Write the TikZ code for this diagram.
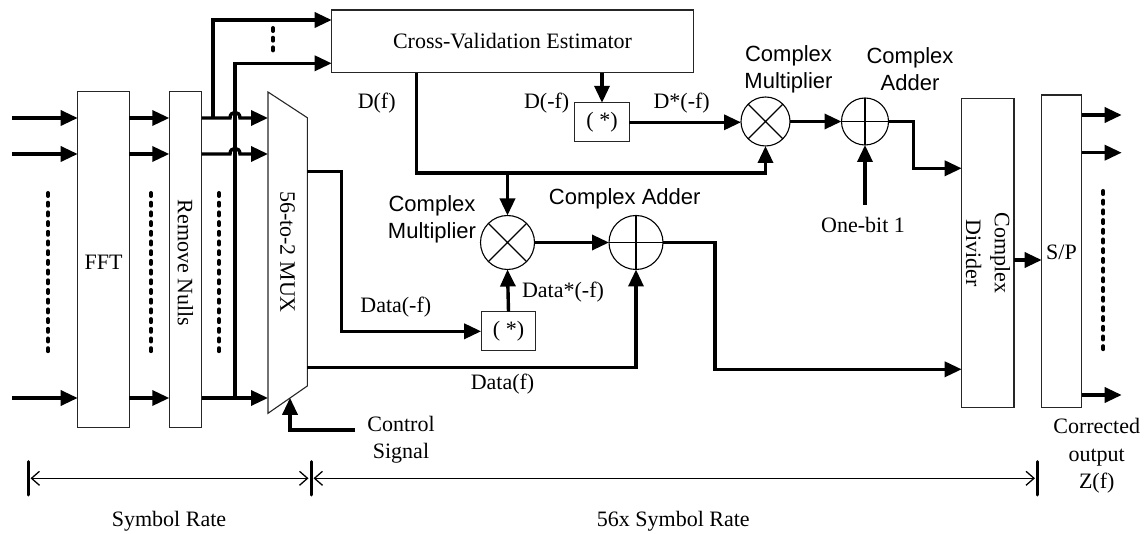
\documentclass[tikz,border=0pt]{standalone}
\usepackage{fontspec}
\setmainfont{Liberation Serif}
\newfontfamily\sansf{Liberation Sans}
\usetikzlibrary{arrows.meta,calc}
\begin{document}
\begin{tikzpicture}[x=1pt,y=-1pt,
  every node/.style={font=\fontsize{22}{26}\selectfont, inner sep=0pt, outer sep=0pt},
  blk/.style={draw=black!85, line width=1.1pt},
  sig/.style={line width=3.4pt, -{Triangle[length=17pt,width=15pt]}},
  wire/.style={line width=3.4pt},
  dotcol/.style={line width=4pt, line cap=round, dash pattern=on 3pt off 6.7pt},
  thinl/.style={line width=1.1pt},
  dimline/.style={line width=1.3pt, {Straight Barb[length=8pt,width=14pt]}-{Straight Barb[length=8pt,width=14pt]}},
  tickl/.style={line width=3pt, line cap=round},
  sl/.style={font=\sansf\fontsize{22}{27}\selectfont, align=center},
  rl/.style={align=center},
]
\useasboundingbox (0,0) rectangle (1146,534);

% ---------- blocks ----------
\node[blk, minimum width=51.6pt, minimum height=335.6pt] (fft) at (103.5,259.5) {};
\node (fftl) at (103.5,262) {FFT};
\node[blk, minimum width=32.4pt, minimum height=335.6pt] (rn) at (185.5,259.5) {};
\node[rotate=-90] (rnl) at (185.5,263) {Remove Nulls};
\node[blk, minimum width=361.6pt, minimum height=62.7pt] (cv) at (512.5,41.35) {Cross-Validation Estimator};
\node[blk, minimum width=54.7pt, minimum height=39pt] (cj1) at (602,122.3) {( *)};
\node[blk, minimum width=54.7pt, minimum height=39.3pt] (cj2) at (508.5,331.3) {( *)};
\node[blk, minimum width=52.3pt, minimum height=309pt] (div) at (987.85,252.8) {};
\node[rotate=-90, rl, font=\fontsize{22}{28.7}\selectfont] (divl) at (988,253) {Complex\\Divider};
\node[blk, minimum width=40pt, minimum height=312.3pt] (sp) at (1061.7,251.15) {};
\node (spl) at (1061.5,252) {S/P};

% MUX
\coordinate (mux1) at (268,92);
\coordinate (mux2) at (307.3,117.7);
\coordinate (mux3) at (307.3,386);
\coordinate (mux4) at (268,413.3);
\draw[blk] (mux1) -- (mux2) -- (mux3) -- (mux4) -- cycle;
\node[rotate=-90] (muxl) at (287.5,252) {56-to-2 MUX};

% circles
\node[circle, draw, thinl, minimum size=54pt] (m1) at (507.5,242.5) {};
\draw[thinl] (m1.north west) -- (m1.south east) (m1.north east) -- (m1.south west);
\node[circle, draw, thinl, minimum size=54pt] (a1) at (636,242.5) {};
\draw[thinl] (a1.north) -- (a1.south) (a1.west) -- (a1.east);
\node[circle, draw, thinl, minimum size=49pt] (m2) at (765.5,121.5) {};
\draw[thinl] (m2.north west) -- (m2.south east) (m2.north east) -- (m2.south west);
\node[circle, draw, thinl, minimum size=47pt] (a2) at (865,121.5) {};
\draw[thinl] (a2.north) -- (a2.south) (a2.west) -- (a2.east);

% ---------- inputs ----------
\coordinate (in1) at (12,118);
\coordinate (in2) at (12,154);
\coordinate (in3) at (12,398);
\foreach \c in {in1,in2,in3}{
  \draw[sig] (\c) -- (\c -| fft.west);
  \draw[sig] (fft.east |- \c) -- (rn.west |- \c);
}
\coordinate (mi1) at (268,118);
\coordinate (mi2) at (268,154);
\coordinate (mi3) at (268,398);
\coordinate (h1) at (230,118);
\coordinate (h1e) at (240,118);
\coordinate (h2) at (230,154);
\coordinate (h2e) at (240,154);
\draw[sig] (rn.east |- mi1) -- (h1) .. controls (230,110.5) and (240,110.5) .. (h1e) -- (mi1);
\draw[sig] (rn.east |- mi2) -- (h2) .. controls (230,146.5) and (240,146.5) .. (h2e) -- (mi2);
\draw[sig] (rn.east |- mi3) -- (mi3);

% branches to CV
\coordinate (b1) at (213,118);
\coordinate (t1) at (213,20);
\coordinate (b2) at (235,398);
\coordinate (t2) at (235,63.3);
\draw[sig] (b1) -- (t1) -- (t1 -| cv.west);
\draw[sig] (b2) -- (t2) -- (t2 -| cv.west);

% dots
\coordinate (d1a) at (48,193); \coordinate (d1b) at (48,356);
\coordinate (d2a) at (151,193); \coordinate (d2b) at (151,356);
\coordinate (d3a) at (219,193); \coordinate (d3b) at (219,356);
\coordinate (d4a) at (273,28); \coordinate (d4b) at (273,56);
\coordinate (d5a) at (1103.3,191); \coordinate (d5b) at (1103.3,352);
\draw[dotcol] (d1a) -- (d1b);
\draw[dotcol] (d2a) -- (d2b);
\draw[dotcol] (d3a) -- (d3b);
\draw[dotcol] (d4a) -- (d4b);
\draw[dotcol] (d5a) -- (d5b);

% ---------- D(f) path ----------
\coordinate (dfs) at (416.7,72.7);
\coordinate (dfc) at (416.7,173);
\coordinate (dfb) at (507.5,173);
\coordinate (dfe) at (765.5,173);
\draw[sig] (dfs) -- (dfc) -- (dfe) -- (m2.south);
\draw[sig] (dfb) -- (m1.north);

% D(-f)
\coordinate (dms) at (602,72.7);
\draw[sig] (dms) -- (cj1.north);
\draw[sig] (cj1.east) -- (cj1.east -| m2.west);
\draw[sig] (m2.east) -- (a2.west);
\coordinate (k1) at (913.3,121.5);
\coordinate (k2) at (913.3,168.3);
\draw[sig] (a2.east) -- (k1) -- (k2) -- (k2 -| div.west);
\coordinate (ob) at (865,205);
\draw[sig] (ob) -- (a2.south);

% lower path
\coordinate (mo1) at (307.3,171.7);
\coordinate (k5) at (341.7,171.7);
\coordinate (k6) at (341.7,331.3);
\draw[sig] (mo1) -- (k5) -- (k6) -- (cj2.west);
\draw[sig] (cj2.north) -- (m1.south);
\draw[sig] (m1.east) -- (a1.west);
\coordinate (mo2) at (307.3,367.3);
\coordinate (k7) at (636,367.3);
\draw[sig] (mo2) -- (k7) -- (a1.south);
\coordinate (k3) at (715,242.5);
\coordinate (k4) at (715,369.3);
\draw[sig] (a1.east) -- (k3) -- (k4) -- (k4 -| div.west);

% control
\coordinate (cs) at (355,430);
\coordinate (k8) at (290,430);
\coordinate (mb) at (290,397.8);
\draw[sig] (cs) -- (k8) -- (mb);

% divider -> S/P and outputs
\coordinate (dsp) at (1014,260);
\draw[sig] (dsp) -- (dsp -| sp.west);
\coordinate (o1) at (1081.7,115);
\coordinate (o2) at (1081.7,152.7);
\coordinate (o3) at (1081.7,395);
\foreach \c in {o1,o2,o3}{\draw[sig] (\c) -- ++(40,0);}

% ---------- labels ----------
\node (lDf) at (376.7,103.3) {D(f)};
\node (lDmf) at (546.7,103.3) {D(-f)};
\node (lDsmf) at (681.7,103.3) {D*(-f)};
\node (lDatamf) at (395.8,306.7) {Data(-f)};
\node (lDatasmf) at (563,291.7) {Data*(-f)};
\node (lDataf) at (502.5,384) {Data(f)};
\node (lOne) at (863,225) {One-bit 1};
\node[rl, font=\fontsize{22}{26.7}\selectfont] (lCtrl) at (401,440) {Control\\Signal};
\node[rl, font=\fontsize{22}{27.5}\selectfont] (lOut) at (1096.7,455.9) {Corrected\\output\\Z(f)};
\node[sl] (lCM1) at (432,219.5) {Complex\\Multiplier};
\node[sl] (lCA1) at (624.7,199) {Complex Adder};
\node[sl] (lCM2) at (788.5,69.5) {Complex\\Multiplier};
\node[sl] (lCA2) at (910,69.5) {Complex\\Adder};

% ---------- rate dimensions ----------
\coordinate (tk1a) at (28.3,461.7); \coordinate (tk1b) at (28.3,495);
\coordinate (tk2a) at (311,461.7); \coordinate (tk2b) at (311,495);
\coordinate (tk3a) at (1037.3,461.7); \coordinate (tk3b) at (1037.3,495);
\draw[tickl] (tk1a) -- (tk1b);
\draw[tickl] (tk2a) -- (tk2b);
\draw[tickl] (tk3a) -- (tk3b);
\coordinate (da1) at (30.5,478.3); \coordinate (da2) at (308.5,478.3);
\coordinate (db1) at (313.5,478.3); \coordinate (db2) at (1035,478.3);
\draw[dimline] (da1) -- (da2);
\draw[dimline] (db1) -- (db2);
\node (lSR) at (169,521.7) {Symbol Rate};
\node (l56) at (673.3,521.7) {56x Symbol Rate};
\end{tikzpicture}
\end{document}
